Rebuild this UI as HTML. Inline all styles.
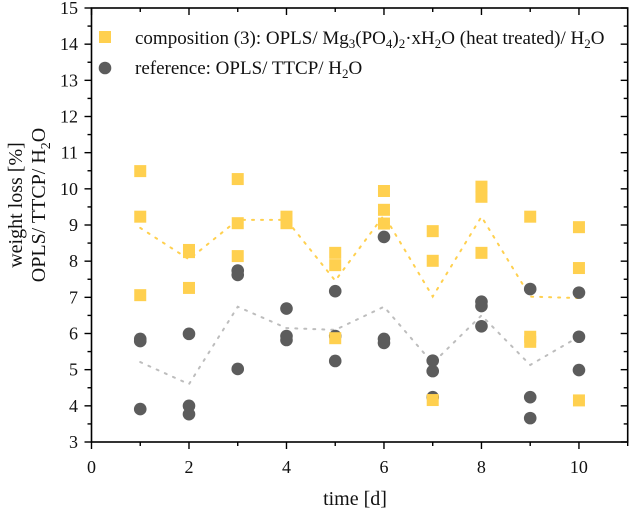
<!DOCTYPE html>
<html><head><meta charset="utf-8"><style>
body{margin:0;background:#fff;}
svg{display:block;}
</style></head><body>
<svg id="chart" width="630" height="509" viewBox="0 0 630 509" xmlns="http://www.w3.org/2000/svg">
<g id="plot"></g>
</svg>
<script>
const days = [1,2,3,4,5,6,7,8,9,10];
const compValues = [
 [10.49,9.23,7.06],[8.31,8.25,7.26],[10.27,9.05,8.14],[9.23,9.05],[8.23,7.89,5.87],
 [9.94,9.42,9.04],[8.83,8.01,4.16],[10.06,9.78,8.23],[9.23,5.91,5.77],[8.94,7.81,4.15]
];
const refValues = [
 [5.79,5.85,3.91],[5.99,4.0,3.77],[7.74,7.62,5.02],[6.69,5.93,5.82],[7.17,5.93,5.24],
 [8.67,5.85,5.74],[5.25,4.96,4.24],[6.88,6.76,6.2],[7.23,4.24,3.66],[7.13,5.91,4.99]
];
const compLine = [8.92,8.05,9.14,9.14,7.46,9.27,7.02,9.23,7.02,6.98];
const refLine = [5.21,4.6,6.74,6.15,6.1,6.74,5.18,6.5,5.13,5.91];
const xTicks = [0,2,4,6,8,10];
const yTicks = [3,4,5,6,7,8,9,10,11,12,13,14,15];

const X0=91.5, X1=627.7, Y0=442, Y1=8;
const xMin=0,xMax=11,yMin=3,yMax=15;
const sx=v=>X0+(v-xMin)/(xMax-xMin)*(X1-X0);
const sy=v=>Y0-(v-yMin)/(yMax-yMin)*(Y0-Y1);
const NS="http://www.w3.org/2000/svg";
const g=document.getElementById('plot');
function mk(tag,attrs,parent){const e=document.createElementNS(NS,tag);for(const k in attrs)e.setAttribute(k,attrs[k]);(parent||g).appendChild(e);return e;}

const YEL="#FFD04F", GRY="#5C5C5C";
const lc=mk('polyline',{points:days.map((d,i)=>sx(d)+','+sy(compLine[i])).join(' '),fill:'none',stroke:YEL,'stroke-width':2,'stroke-dasharray':'2 7','stroke-linecap':'round'});


const lr=mk('polyline',{points:days.map((d,i)=>sx(d)+','+sy(refLine[i])).join(' '),fill:'none',stroke:'#BDBDBD','stroke-width':2,'stroke-dasharray':'2 7','stroke-linecap':'round'});


days.forEach((d,i)=>{
  refValues[i].forEach(v=>{
    const c=mk('circle',{cx:sx(d),cy:sy(v),r:6.3,fill:GRY});
    
    
  });
});
days.forEach((d,i)=>{
  compValues[i].forEach(v=>{
    const r=mk('rect',{x:sx(d)-6,y:sy(v)-6,width:12,height:12,fill:YEL});
    
    
  });
});
const fr=mk('rect',{x:X0,y:Y1,width:X1-X0,height:Y0-Y1,fill:'none',stroke:'#000','stroke-width':1.6});


for(let v=0;v<=11;v++){
  const major=v%2===0, L=major?7:4;
  mk('line',{x1:sx(v),x2:sx(v),y1:Y0,y2:Y0+L,stroke:'#000','stroke-width':1.4});
  mk('line',{x1:sx(v),x2:sx(v),y1:Y1,y2:Y1+L,stroke:'#000','stroke-width':1.4});
}
for(let v=3;v<=15;v+=0.5){
  const major=Number.isInteger(v), L=major?7:4;
  mk('line',{x1:X0-L,x2:X0,y1:sy(v),y2:sy(v),stroke:'#000','stroke-width':1.4});
  mk('line',{x1:X1-L,x2:X1,y1:sy(v),y2:sy(v),stroke:'#000','stroke-width':1.4});
}
</script>
<svg style="position:absolute;left:0;top:0" width="630" height="509" xmlns="http://www.w3.org/2000/svg" font-family="Liberation Serif, serif">
<g font-size="18" fill="#111" text-anchor="middle">
<text x="91.5" y="473">0</text><text x="189" y="473">2</text><text x="286.5" y="473">4</text><text x="384" y="473">6</text><text x="481.4" y="473">8</text><text x="578.9" y="473">10</text>
</g>
<g font-size="18" fill="#111" text-anchor="end">
<text x="78" y="448">3</text><text x="78" y="411.8">4</text><text x="78" y="375.7">5</text><text x="78" y="339.5">6</text><text x="78" y="303.3">7</text><text x="78" y="267.2">8</text><text x="78" y="231">9</text><text x="78" y="194.8">10</text><text x="78" y="158.7">11</text><text x="78" y="122.5">12</text><text x="78" y="86.3">13</text><text x="78" y="50.2">14</text><text x="78" y="14">15</text>
</g>
<text x="355" y="505" text-anchor="middle" font-size="20" fill="#111">time [d]</text>
<g transform="translate(22,205) rotate(-90)">
<text x="0" y="0" text-anchor="middle" font-size="20" fill="#111">weight loss [%]</text>
<text x="0" y="23" text-anchor="middle" font-size="20" fill="#111">OPLS/ TTCP/ H<tspan font-size="14" dy="5">2</tspan><tspan dy="-5">O</tspan></text>
</g>
<g>
<rect x="99" y="31" width="12" height="12" fill="#FFD04F"/>
<text x="135" y="44" font-size="19" fill="#111">composition (3): OPLS/ Mg<tspan font-size="13" dy="4">3</tspan><tspan dy="-4">(PO</tspan><tspan font-size="13" dy="4">4</tspan><tspan dy="-4">)</tspan><tspan font-size="13" dy="4">2</tspan><tspan dy="-4">·xH</tspan><tspan font-size="13" dy="4">2</tspan><tspan dy="-4">O (heat treated)/ H</tspan><tspan font-size="13" dy="4">2</tspan><tspan dy="-4">O</tspan></text>
<circle cx="105" cy="68" r="6.3" fill="#5C5C5C"/>
<text x="135" y="74" font-size="19" fill="#111">reference: OPLS/ TTCP/ H<tspan font-size="13" dy="4">2</tspan><tspan dy="-4">O</tspan></text>
</g>
</svg>
</body></html>
